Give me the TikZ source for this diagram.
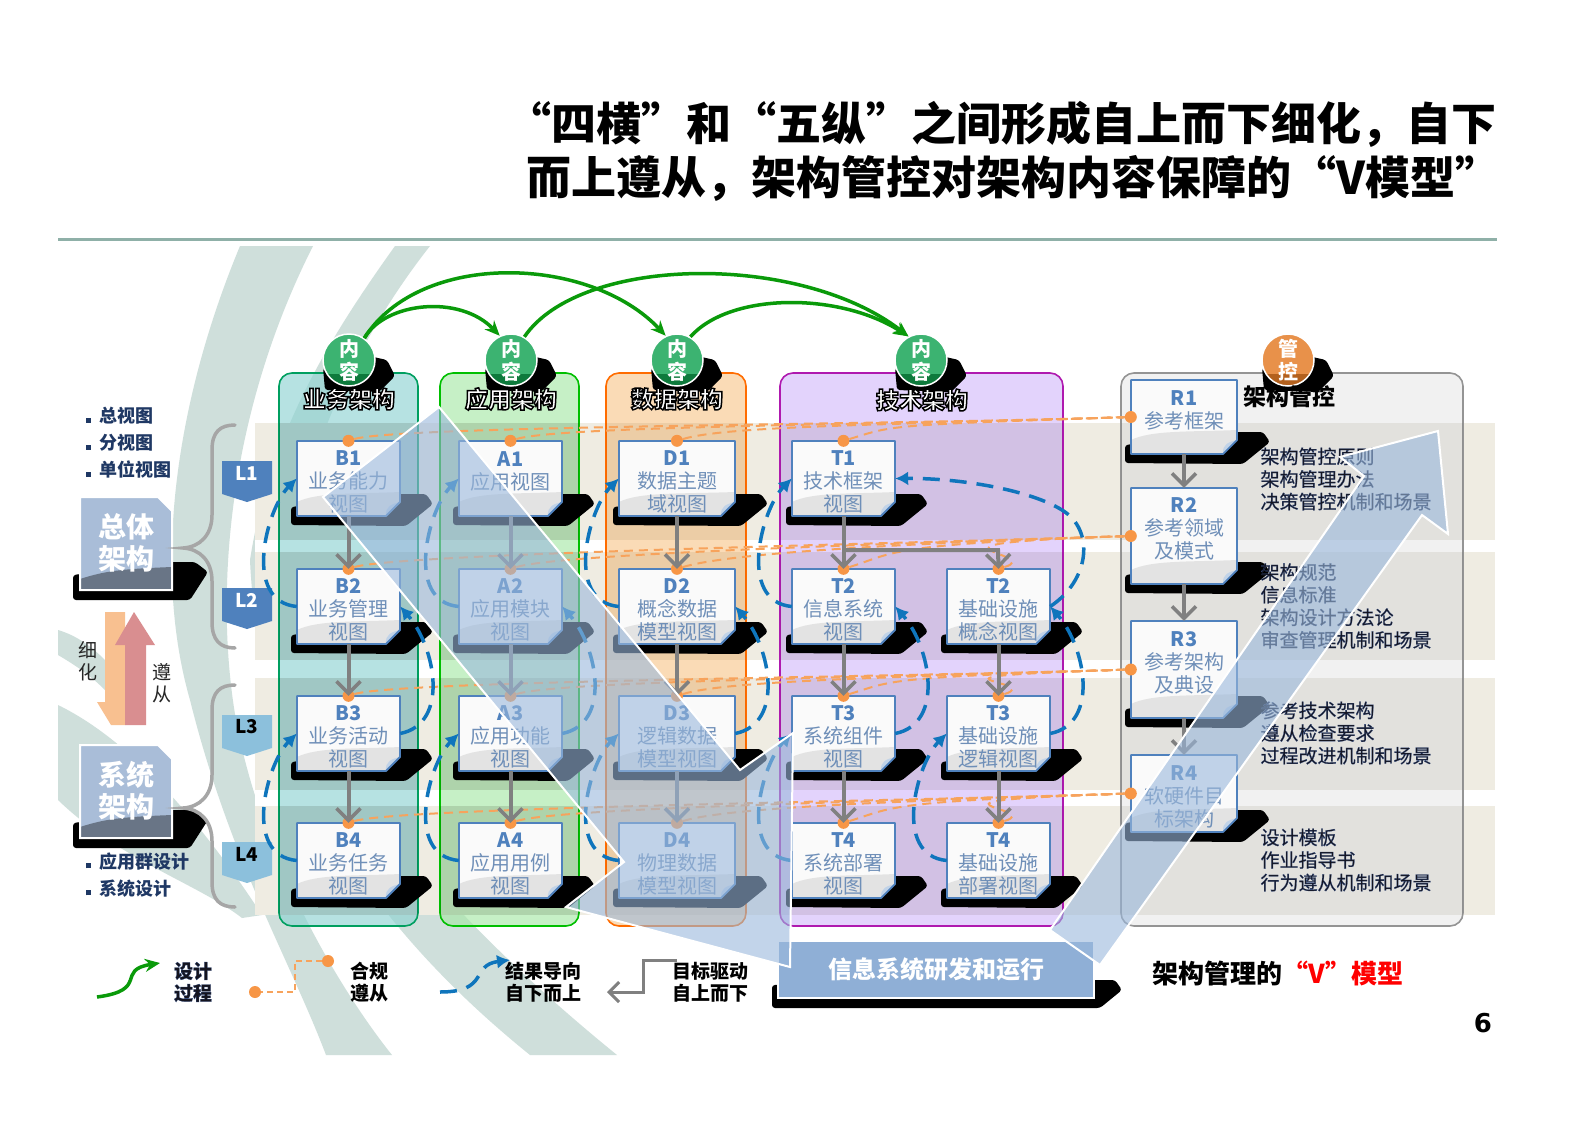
\documentclass[tikz,border=0pt]{standalone}
\usepackage{fontspec}
\usepackage{xcolor}
\setmainfont{Noto Sans CJK SC}
\newfontfamily\numfont{DejaVu Sans}
\usetikzlibrary{arrows.meta}

\definecolor{swirl}{HTML}{CFDFDB}
\definecolor{headline}{HTML}{8FB0A8}
\definecolor{rowbeige}{HTML}{EFECE2}
\definecolor{linkorange}{HTML}{F7A35C}
\definecolor{dotorange}{HTML}{F79646}
\definecolor{resultblue}{HTML}{0F75BC}
\definecolor{edgeblue}{HTML}{4F81BD}
\definecolor{cardblue}{HTML}{6F8FB8}
\definecolor{navy}{HTML}{1F3864}
\definecolor{designgreen}{HTML}{0A9A0A}
\definecolor{vblue}{HTML}{9AB8DC}
\definecolor{runblue}{HTML}{8FAFD6}
\definecolor{sheetblue}{HTML}{A9BDD8}
\definecolor{taglight}{HTML}{8CC0DC}
\definecolor{badgegreen}{HTML}{3CB371}
\definecolor{badgegreenlow}{HTML}{0E7A3C}
\definecolor{badgeorange}{HTML}{E8914A}
\definecolor{badgeorangelow}{HTML}{B3611E}
\definecolor{arrowdown}{HTML}{F8C090}
\definecolor{arrowup}{HTML}{D98E90}

\newcommand{\fs}[2]{\fontsize{#1}{#2}\selectfont}
\newcommand{\ringtext}[1]{\special{pdf:code q 2 Tr 1.5 w 0 0 0 RG 1 1 1 rg}#1\special{pdf:code Q}}
\newcommand{\gl}[1]{\special{pdf:code q 2 Tr 0.25 w 0.2 0.3 0.5 RG 0.08 0.08 0.12 rg}#1\special{pdf:code Q}}

\tikzset{
  lanebox/.style={rounded corners=13pt, line width=1.6pt},
  blackblob/.style={fill=black, rounded corners=3pt},
  cardedge/.style={draw=edgeblue, line width=1.8pt, line join=round},
  cardtext/.style={inner sep=0pt, align=center, text=cardblue, font=\fs{20}{23}},
  flowarrow/.style={draw=gray, line width=4pt, -{Straight Barb[length=12pt,width=24pt,line width=3.5pt]}},
  dashlink/.style={draw=linkorange, line width=2pt, dash pattern=on 9pt off 6pt},
  resultarc/.style={draw=resultblue, line width=3.5pt, dash pattern=on 17pt off 10pt, -{Latex[length=13pt,width=14pt]}},
  designarc/.style={draw=designgreen, line width=3.5pt, -{Stealth[length=15pt,width=13pt]}},
  dotnode/.style={circle, fill=dotorange, minimum size=12pt, inner sep=0pt},
  lanelabel/.style={font=\bfseries\fs{23}{24}},
  sidetext/.style={anchor=west, align=left, font=\fs{19}{22.6}},
  bulletlist/.style={anchor=west, align=left, text=navy, font=\bfseries\fs{18}{27}},
  legendtext/.style={align=left, text=black, font=\bfseries\fs{19}{22}},
  tagtext/.style={font=\bfseries\fs{19}{21}},
  bracepath/.style={draw=black!35, line width=3.5pt, line cap=round}
}

% card with its black smear, grey foot and curled corner
\newcommand{\docard}[8]{%
  \fill[blackblob] ({#2-6},{#3+#5-9}) -- ({#2-6},{#3+#5+9}) -- ({#2+#4+6},{#3+#5+10})
    -- ({#2+#4+33},{#3+#5-12}) -- ({#2+#4+26},{#3+#5-22}) -- ({#2+#4},{#3+#5-22}) -- cycle;
  \fill[black!2] (#2,#3) -- ({#2+#4},#3) -- ({#2+#4},{#3+#5-14}) -- ({#2+#4-14},{#3+#5}) -- (#2,{#3+#5}) -- cycle;
  \fill[black!11] (#2,{#3+#5}) -- (#2,{#3+#5-14}) .. controls ({#2+20},{#3+#5-24}) and ({#2+60},{#3+#5-22}) .. ({#2+#4},{#3+#5-24})
    -- ({#2+#4},{#3+#5-14}) -- ({#2+#4-14},{#3+#5}) -- cycle;
  \fill[edgeblue!35] ({#2+#4-14},{#3+#5}) .. controls ({#2+#4-15},{#3+#5-10}) and ({#2+#4-8},{#3+#5-12}) .. ({#2+#4},{#3+#5-14}) -- cycle;
  \draw[cardedge] (#2,#3) -- ({#2+#4},#3) -- ({#2+#4},{#3+#5-14}) -- ({#2+#4-14},{#3+#5}) -- (#2,{#3+#5}) -- cycle;
  \node[cardtext, minimum width=#4pt, minimum height=#5pt] (#1) at ({#2+#4/2},{#3+#5/2}) {\rule{0pt}{22pt}{\bfseries\color{edgeblue}#6}\\#7\\#8};
}
% round badge on top of a lane
\newcommand{\dobadge}[6]{%
  \fill[blackblob] ({#2-26},368) -- ({#2-24},390) -- ({#2+30},392) -- ({#2+46},376) -- ({#2+38},360) -- ({#2+20},356) -- cycle;
  \fill[#3] (#2,360) circle (26);
  \begin{scope}
    \clip (#2,360) circle (26);
    \fill[#4] ({#2-30},374) rectangle ({#2+30},390);
  \end{scope}
  \node[circle, draw=white, line width=1.5pt, minimum size=52pt, inner sep=0pt, align=center, text=white, font=\bfseries\fs{20}{23}] (#1) at (#2,360) {#5\\#6};
}
% level tag
\newcommand{\dotag}[4]{%
  \fill[#3] (222,#2) -- (272,#2) -- (272,{#2+33}) -- (247,{#2+41}) -- (222,{#2+33}) -- cycle;
  \node[tagtext, text=#4] (#1tag) at (247,{#2+12}) {#1};
}
% big architecture sheet on the left
\newcommand{\dosheet}[3]{%
  \fill[blackblob] (73,{#2+78}) -- (73,{#2+103}) -- (190,{#2+103}) -- (208,{#2+75}) -- (195,{#2+65}) -- (172,{#2+65}) -- cycle;
  \fill[sheetblue] (80,#2) -- (158,#2) -- (172,{#2+14}) -- (172,{#2+93}) -- (80,{#2+93}) -- cycle;
  \fill[sheetblue!62!black] (80,{#2+93}) -- (80,{#2+82}) .. controls (105,{#2+74}) and (120,{#2+72}) .. (172,{#2+70}) -- (172,{#2+93}) -- cycle;
  \draw[white, line width=2pt] (80,#2) -- (158,#2) -- (172,{#2+14}) -- (172,{#2+93}) -- (80,{#2+93}) -- cycle;
  \node[align=center, text=white, font=\bfseries\fs{28}{32}] (#1) at (126,{#2+46}) {#3};
}

\begin{document}
\begin{tikzpicture}[x=1pt, y=-1pt, >=Stealth]
  \useasboundingbox (0,0) rectangle (1587,1122);
  \fill[white] (0,0) rectangle (1587,1122);

  % swirl behind everything
  \fill[swirl] (240,246) .. controls (180,390) and (150,560) .. (190,700) .. controls (230,860) and (290,960) .. (326,1055)
    -- (392,1055) .. controls (340,990) and (262,860) .. (236,720) .. controls (215,600) and (225,420) .. (313,246) -- cycle;
  \fill[swirl] (395,246) .. controls (335,330) and (270,430) .. (250,560) .. controls (260,790) and (400,950) .. (530,1055)
    -- (617,1055) .. controls (500,960) and (330,800) .. (290,640) .. controls (275,520) and (340,360) .. (430,246) -- cycle;
  \fill[swirl] (58,705) .. controls (130,740) and (200,820) .. (262,915) -- (242,918) .. controls (200,885) and (120,860) .. (58,800) -- cycle;
  \fill[swirl] (58,630) .. controls (75,635) and (90,645) .. (105,660) -- (105,690) .. controls (90,675) and (75,665) .. (58,655) -- cycle;

  % title
  \draw[draw=headline, line width=3pt] (58,239) -- (1497,239);
  \node[anchor=west, inner sep=0pt, font=\bfseries\fs{45}{45}] (titleA) at (506,124) {“四横”和“五纵”之间形成自上而下细化，自下};
  \node[anchor=west, inner sep=0pt, font=\bfseries\fs{45}{45}] (titleB) at (526,178) {而上遵从，架构管控对架构内容保障的“V模型”};

  % rows
  \fill[white] (255,423) rectangle (1495,915);
  \foreach \ya/\yb in {423/540, 552/660, 678/790, 806/915}
    \fill[rowbeige] (255,\ya) rectangle (1495,\yb);

  % lanes
  \draw[lanebox, draw=teal!75!green, fill={rgb,255:red,143;green,211;blue,211}, fill opacity=.65] (279,373) rectangle (418,926);
  \draw[lanebox, draw=green!75!black, fill={rgb,255:red,168;green,232;blue,168}, fill opacity=.65] (440,373) rectangle (579,926);
  \draw[lanebox, draw=orange!85!red, fill={rgb,255:red,248;green,200;blue,144}, fill opacity=.65] (606,373) rectangle (746,926);
  \draw[lanebox, draw=violet!70!magenta!90!white, fill={rgb,255:red,200;green,168;blue,250}, fill opacity=.5] (780,373) rectangle (1063,926);
  \draw[lanebox, draw=black!42, fill=black!9, fill opacity=.6] (1121,373) rectangle (1463,926);
  \foreach \ya/\yb in {423/540, 552/660, 678/790, 806/915}
    \foreach \xa/\xb/\rowdark in {279/418/.09, 440/579/.09, 606/746/.03, 780/1063/.04, 1121/1463/.03}
      \fill[black, fill opacity=\rowdark] (\xa,\ya) rectangle (\xb,\yb);

  % left column
  \node[bulletlist] (listtop) at (82,443) {\rule{5pt}{5pt}\hspace{9pt}总视图\\\rule{5pt}{5pt}\hspace{9pt}分视图\\\rule{5pt}{5pt}\hspace{9pt}单位视图};
  \node[bulletlist] (listlow) at (82,875) {\rule{5pt}{5pt}\hspace{9pt}应用群设计\\\rule{5pt}{5pt}\hspace{9pt}系统设计};
  \dosheet{sheetA}{497}{总体\\架构}
  \dosheet{sheetB}{745}{系统\\架构}
  \fill[arrowdown] (105,612) -- (125,612) -- (125,725) -- (111,725) -- (97,702) -- (105,702) -- cycle;
  \fill[arrowup] (125,725) -- (125,645) -- (115,645) -- (134,612) -- (155,645) -- (146,645) -- (146,725) -- cycle;
  \node[text=black!85, align=center, font=\fs{19}{22}] (downword) at (88,661) {细\\化};
  \node[text=black!85, align=center, font=\fs{19}{22}] (upword) at (162,683) {遵\\从};
  \draw[bracepath] (235,425) .. controls (220,425) and (212,432) .. (212,450) -- (212,515) .. controls (212,535) and (200,547) .. (183,548)
    .. controls (200,549) and (212,561) .. (212,581) -- (212,622) .. controls (212,640) and (220,648) .. (235,648);
  \draw[bracepath] (235,685) .. controls (220,685) and (212,692) .. (212,710) -- (212,775) .. controls (212,795) and (200,807) .. (183,808)
    .. controls (200,809) and (212,821) .. (212,841) -- (212,882) .. controls (212,900) and (220,907) .. (235,907);
  \dotag{L1}{461}{edgeblue}{white}
  \dotag{L2}{588}{edgeblue}{white}
  \dotag{L3}{715}{taglight}{black}
  \dotag{L4}{842}{taglight}{black}

  % cards
  \docard{B1}{297}{441}{103}{75}{B1}{业务能力}{视图}
  \docard{B2}{297}{569}{103}{75}{B2}{业务管理}{视图}
  \docard{B3}{297}{696}{103}{75}{B3}{业务活动}{视图}
  \docard{B4}{297}{823}{103}{75}{B4}{业务任务}{视图}
  \docard{A1}{459}{441}{103}{75}{A1}{应用视图}{~}
  \docard{A2}{459}{569}{103}{75}{A2}{应用模块}{视图}
  \docard{A3}{459}{696}{103}{75}{A3}{应用功能}{视图}
  \docard{A4}{459}{823}{103}{75}{A4}{应用用例}{视图}
  \docard{D1}{619}{441}{116}{75}{D1}{数据主题}{域视图}
  \docard{D2}{619}{569}{116}{75}{D2}{概念数据}{模型视图}
  \docard{D3}{619}{696}{116}{75}{D3}{逻辑数据}{模型视图}
  \docard{D4}{619}{823}{116}{75}{D4}{物理数据}{模型视图}
  \docard{T1}{792}{441}{103}{75}{T1}{技术框架}{视图}
  \docard{T2}{792}{569}{103}{75}{T2}{信息系统}{视图}
  \docard{T3}{792}{696}{103}{75}{T3}{系统组件}{视图}
  \docard{T4}{792}{823}{103}{75}{T4}{系统部署}{视图}
  \docard{S2}{947}{569}{103}{75}{T2}{基础设施}{概念视图}
  \docard{S3}{947}{696}{103}{75}{T3}{基础设施}{逻辑视图}
  \docard{S4}{947}{823}{103}{75}{T4}{基础设施}{部署视图}
  \docard{R1}{1131}{380}{106}{74}{R1}{参考框架}{~}
  \docard{R2}{1131}{488}{106}{96}{R2}{参考领域}{及模式\\\rule{0pt}{10pt}}
  \docard{R3}{1131}{621}{106}{97}{R3}{参考架构}{及典设\\\rule{0pt}{10pt}}
  \docard{R4}{1131}{755}{106}{77}{R4}{软硬件目}{标架构}

  % control texts
  \node[sidetext] (ruleA) at (1257,479) {\gl{架构管控原则}\\\gl{架构管理办法}\\\gl{决策管控机制和场景}};
  \node[sidetext] (ruleB) at (1257,606) {\gl{架构规范}\\\gl{信息标准}\\\gl{架构设计方法论}\\\gl{审查管理机制和场景}};
  \node[sidetext] (ruleC) at (1257,733) {\gl{参考技术架构}\\\gl{遵从检查要求}\\\gl{过程改进机制和场景}};
  \node[sidetext] (ruleD) at (1257,860) {\gl{设计模板}\\\gl{作业指导书}\\\gl{行为遵从机制和场景}};

  % compliance dots and links
  \foreach \cname in {B1,B2,B3,B4,A1,A2,A3,A4,D1,D2,D3,D4,T1,T2,T3,T4,S2,S3,S4}
    \node[dotnode] (d\cname) at (\cname.north) {};
  \foreach \cname in {R1,R2,R3,R4}
    \node[dotnode] (d\cname) at (\cname.west) {};
  \foreach \cname/\rname in {B1/R1,A1/R1,D1/R1,T1/R1,B2/R2,A2/R2,D2/R2,T2/R2,S2/R2,B3/R3,A3/R3,D3/R3,T3/R3,S3/R3,B4/R4,A4/R4,D4/R4,T4/R4,S4/R4}
    \draw[dashlink] (d\cname) .. controls +(50,-15) and +(-250,8) .. (d\rname);

  % top down flow
  \foreach \cfrom/\cto in {B1/B2,B2/B3,B3/B4,A1/A2,A2/A3,A3/A4,D1/D2,D2/D3,D3/D4,T1/T2,T2/T3,T3/T4,S2/S3,S3/S4,R1/R2,R2/R3,R3/R4}
    \draw[flowarrow] (\cfrom.south) -- (\cto.north);
  \coordinate (elbowA) at (843,550);
  \coordinate (elbowB) at (998,550);
  \draw[flowarrow] (elbowA) -- (elbowB) -- (S2.north);

  % bottom up results
  \foreach \cfrom/\cto in {B2/B1,B4/B3,A2/A1,A4/A3,D2/D1,D4/D3,T2/T1,T4/T3,S4/S3}
    \draw[resultarc] (\cfrom.west) .. controls +(-55,-5) and +(-30,30) .. (\cto.west);
  \foreach \cfrom/\cto in {B3/B2,A3/A2,D3/D2,T3/T2,S3/S2}
    \draw[resultarc] (\cfrom.east) .. controls +(50,-10) and +(35,40) .. (\cto.east);
  \draw[resultarc] (S2.east) .. controls (1090,580) and (1095,530) .. (1062,510) .. controls (1030,490) and (960,478) .. (T1.east);

  % lane badges and headings
  \dobadge{badgeB}{349}{badgegreen}{badgegreenlow}{内}{容}
  \dobadge{badgeA}{511}{badgegreen}{badgegreenlow}{内}{容}
  \dobadge{badgeD}{677}{badgegreen}{badgegreenlow}{内}{容}
  \dobadge{badgeT}{921}{badgegreen}{badgegreenlow}{内}{容}
  \dobadge{badgeR}{1288}{badgeorange}{badgeorangelow}{管}{控}
  \node[lanelabel] (headB) at (349,399) {\ringtext{业务架构}};
  \node[lanelabel] (headA) at (511,399) {\ringtext{应用架构}};
  \node[lanelabel] (headD) at (677,399) {\ringtext{数据架构}};
  \node[lanelabel] (headT) at (922,400) {\ringtext{技术架构}};
  \node[lanelabel] (headR) at (1289,397) {架构管控};

  % design process arcs
  \draw[designarc] (badgeB.55) .. controls (385,302) and (460,294) .. (badgeA.115);
  \draw[designarc] (badgeB.55) .. controls (420,250) and (590,255) .. (badgeD.115);
  \draw[designarc] (badgeA.60) .. controls (580,255) and (800,252) .. (badgeT.118);
  \draw[designarc] (badgeD.60) .. controls (730,292) and (840,292) .. (badgeT.118);

  % run box
  \fill[blackblob] (772,985) -- (772,1008) -- (1100,1008) -- (1122,990) -- (1115,980) -- (1094,980) -- cycle;
  \node[draw=white, line width=1.5pt, fill=runblue, minimum width=316pt, minimum height=57pt, inner sep=0pt, text=white, font=\bfseries\fs{24}{26}] (runbox) at (936,969.5) {信息系统研发和运行};

  % the V
  \path[fill=vblue, fill opacity=.6, draw=white, line width=2pt, line join=miter] (439,407) -- (740,770) -- (793,733) -- (790,967) -- (566,907) -- (624,862) -- (323,497) -- cycle;
  \path[fill=vblue, fill opacity=.6, draw=white, line width=2pt, line join=miter] (1438,431) -- (1448,534) -- (1422,515) -- (1100,965) -- (1050,930) -- (1364,476) -- (1340,457) -- cycle;

  % legend
  \coordinate (keyGa) at (97,997);
  \coordinate (keyGb) at (160,963);
  \draw[designarc] (keyGa) .. controls (150,990) and (115,970) .. (keyGb);
  \node[legendtext] (keyGt) at (193,982) {\gl{设计}\\\gl{过程}};
  \node[dotnode] (keyOa) at (328,961) {};
  \node[dotnode] (keyOb) at (255,992) {};
  \draw[dashlink, line width=1.5pt, dash pattern=on 6pt off 4pt] (keyOa) -- (295,961) -- (295,992) -- (keyOb);
  \node[legendtext] (keyOt) at (369,982) {合规\\遵从};
  \coordinate (keyBa) at (440,992);
  \coordinate (keyBb) at (510,960);
  \draw[resultarc] (keyBa) .. controls (490,992) and (470,965) .. (keyBb);
  \node[legendtext] (keyBt) at (543,982) {结果导向\\自下而上};
  \coordinate (keyFa) at (677,960);
  \coordinate (keyFb) at (607,992);
  \draw[draw=gray, line width=3pt, -{Straight Barb[length=10pt,width=20pt,line width=3pt]}] (keyFa) -- (643,960) -- (643,992) -- (keyFb);
  \node[legendtext] (keyFt) at (710,982) {目标驱动\\自上而下};

  \node[font=\bfseries\fs{26}{28}] (vcaption) at (1278,973) {架构管理的{\color{red}“V”模型}};
  \node[font=\numfont\bfseries\fs{26}{28}] (pagenum) at (1483,1023) {6};
\end{tikzpicture}
\end{document}
